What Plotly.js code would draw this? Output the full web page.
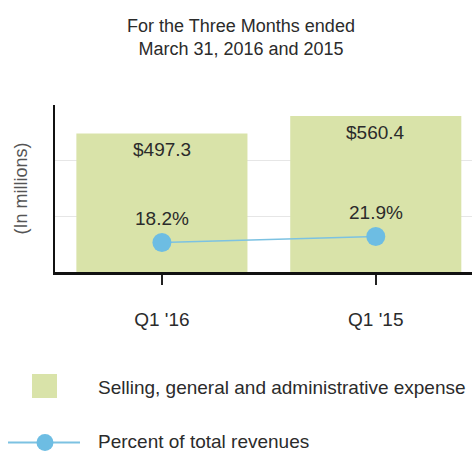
<!DOCTYPE html>
<html><head><meta charset="utf-8">
<script src="https://cdn.plot.ly/plotly-3.0.1.min.js"></script>
<style>html,body{margin:0;padding:0;background:#fff}#chart{width:472px;height:452px}</style>
</head><body><div id="chart"></div>
<script>
// ---- data ----
const categories = ["Q1 '16", "Q1 '15"];
const sgaExpense = [497.3, 560.4];
const percentOfRevenue = [18.2, 21.9];
const seriesNames = ["Selling, general and administrative expense", "Percent of total revenues"];
const yTickValues = [0, 200, 400, 600];
const chartTitle = "For the Three Months ended<br>March 31, 2016 and 2015";
const yAxisTitle = "(In millions)";

// ---- style ----
const W = 472, H = 452;
const M = {l: 55, r: 0, t: 105, b: 180};
const FONT = "Liberation Sans, Arial, sans-serif";
const barColor = "#D9E3A9";
const lineColor = "#7CC2E2";
const markerColor = "#6DBDE3";
const textColor = "#2b2b2b";

// pixel -> paper helpers for the hand-drawn legend
const plotW = W - M.l - M.r, plotH = H - M.t - M.b;
const px = x => (x - M.l) / plotW;
const py = y => (H - M.b - y) / plotH;

const traces = [
  {
    type: "bar", x: categories, y: sgaExpense, name: seriesNames[0],
    marker: {color: barColor}, hoverinfo: "none"
  },
  {
    type: "scatter", mode: "lines+markers", x: categories, y: percentOfRevenue,
    yaxis: "y2", name: seriesNames[1],
    line: {color: lineColor, width: 1.5},
    marker: {color: markerColor, size: 19}, cliponaxis: false, hoverinfo: "none"
  }
];

const annotations = [];
categories.forEach((c, i) => {
  annotations.push({
    x: c, y: sgaExpense[i], xref: "x", yref: "y",
    text: "$" + sgaExpense[i].toFixed(1), showarrow: false,
    yanchor: "middle", yshift: -16,
    font: {family: FONT, size: 19, color: textColor}
  });
  annotations.push({
    x: c, y: percentOfRevenue[i], xref: "x", yref: "y2",
    text: percentOfRevenue[i].toFixed(1) + "%", showarrow: false,
    yanchor: "middle", yshift: 24,
    font: {family: FONT, size: 19, color: textColor}
  });
});
// legend labels
annotations.push({
  xref: "paper", yref: "paper", x: px(96), y: py(387), xanchor: "left", yanchor: "middle",
  text: seriesNames[0], showarrow: false, font: {family: FONT, size: 19, color: textColor}
});
annotations.push({
  xref: "paper", yref: "paper", x: px(96), y: py(442), xanchor: "left", yanchor: "middle",
  text: seriesNames[1], showarrow: false, font: {family: FONT, size: 19, color: textColor}
});

const shapes = [
  {type: "rect", xref: "paper", yref: "paper", x0: px(32), x1: px(57), y0: py(398), y1: py(374),
   fillcolor: barColor, line: {width: 0}},
  {type: "line", xref: "paper", yref: "paper", x0: px(8), x1: px(80), y0: py(442.5), y1: py(442.5),
   line: {color: lineColor, width: 2}},
  {type: "circle", xref: "paper", yref: "paper", x0: px(36.5), x1: px(53.5), y0: py(451), y1: py(434),
   fillcolor: markerColor, line: {width: 0}}
];

const layout = {
  width: W, height: H,
  margin: M,
  paper_bgcolor: "#fff", plot_bgcolor: "#fff",
  font: {family: FONT, color: textColor},
  showlegend: false,
  bargap: 0.2,
  title: {
    text: chartTitle, font: {family: FONT, size: 18, color: textColor},
    xref: "container", yref: "container", x: 241 / W, xanchor: "center",
    y: 1 - 32 / H, yanchor: "middle"
  },
  xaxis: {
    type: "category", range: [-0.5, 1.45], fixedrange: true,
    showline: true, linecolor: "#111", linewidth: 2.5,
    ticks: "outside", ticklen: 10, tickwidth: 1.5, tickcolor: "#222",
    ticklabelstandoff: 19,
    tickfont: {family: FONT, size: 19, color: textColor},
    showgrid: false, zeroline: false
  },
  yaxis: {
    range: [0, 600], tickvals: yTickValues, showticklabels: false, ticks: "",
    showgrid: true, gridcolor: "#e6e6e6", gridwidth: 1,
    showline: true, linecolor: "#111", linewidth: 2.5, zeroline: false,
    title: {text: yAxisTitle, font: {family: FONT, size: 18, color: "#555"}, standoff: 20},
    fixedrange: true
  },
  yaxis2: {
    overlaying: "y", range: [0, 103], visible: false, fixedrange: true
  },
  annotations: annotations,
  shapes: shapes
};

Plotly.newPlot("chart", traces, layout, {staticPlot: true, displayModeBar: false});
</script>
</body></html>
